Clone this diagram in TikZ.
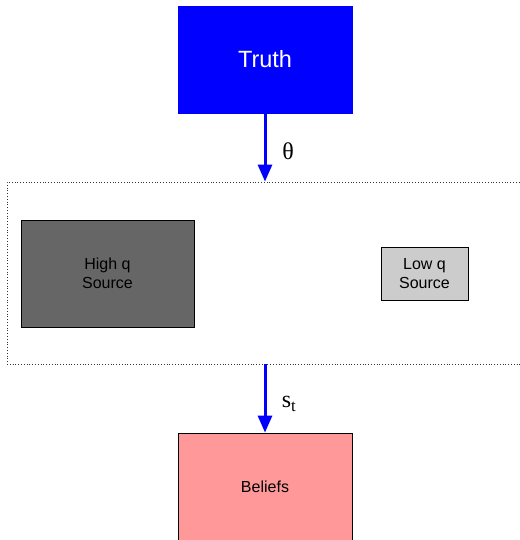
\documentclass[tikz,border=0pt]{standalone}
\usepackage{fontspec}
\setmainfont{Liberation Serif}
\setsansfont{Liberation Sans}
\usepackage{xcolor}
\usetikzlibrary{arrows.meta}
\definecolor{truthblue}{HTML}{0000FF}
\definecolor{highgray}{HTML}{666666}
\definecolor{lowgray}{HTML}{CCCCCC}
\definecolor{beliefpink}{HTML}{FF9999}

\begin{document}
\begin{tikzpicture}[x=1pt,y=-1pt]
\tikzstyle{box}=[draw=black,line width=0.8pt,shape=rectangle,inner sep=0pt,font=\sffamily\fontsize{16}{19.5}\selectfont,align=center];
\tikzstyle{flow}=[draw=truthblue,line width=3pt,-{Triangle[length=17pt,width=14pt]}];
\tikzstyle{lbl}=[font=\rmfamily\fontsize{24}{27}\selectfont];
\useasboundingbox (0,0) rectangle (519,540);
\path (265,59.5) node[box,draw=truthblue,fill=truthblue,text=white,minimum width=174pt,minimum height=107pt,font=\sffamily\fontsize{23.5}{28}\selectfont] (truth) {Truth};
\path (266,273) node[draw=black!80,dotted,line width=0.8pt,minimum width=518pt,minimum height=182pt] (pool) {};
\path (107.5,273.5) node[box,fill=highgray,minimum width=173pt,minimum height=107pt] (highq) {High q\\Source};
\path (424.5,273.5) node[box,fill=lowgray,minimum width=87pt,minimum height=53pt] (lowq) {Low q\\Source};
\path (265,486.5) node[box,fill=beliefpink,minimum width=174pt,minimum height=107pt] (beliefs) {Beliefs};
\draw[flow] (truth.south) -- (truth.south |- pool.north);
\draw[flow] (beliefs.north |- pool.south) -- (beliefs.north);
\path (288,151) node[lbl] (theta) {θ};
\path (289,404) node[lbl] (signal) {s\textsubscript{t}};
\end{tikzpicture}
\end{document}
